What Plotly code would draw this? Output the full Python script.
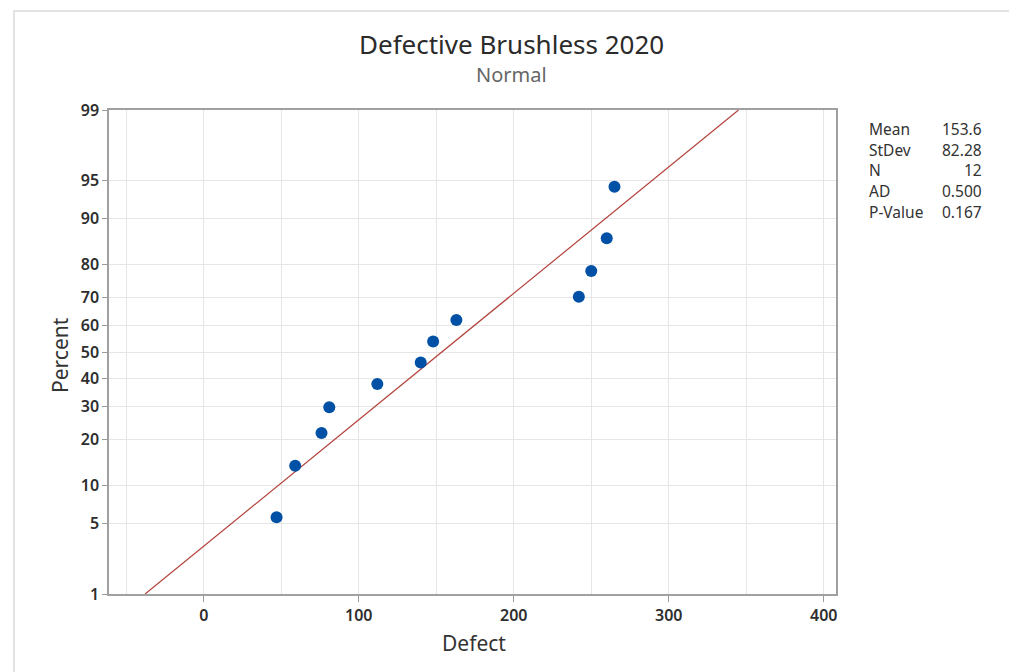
import plotly.graph_objects as go
from statistics import NormalDist

# ---- data ----
DEFECT = [47, 59, 76, 81, 112, 140, 148, 163, 242, 250, 260, 265]
PERCENT = [5.6, 13.7, 21.8, 29.8, 37.9, 46.0, 54.0, 62.1, 70.2, 78.2, 86.3, 94.4]
PCT_TICKS = [1, 5, 10, 20, 30, 40, 50, 60, 70, 80, 90, 95, 99]
X_TICKS = [0, 100, 200, 300, 400]
STAT_LABELS = ["Mean", "StDev", "N", "AD", "P-Value"]
STAT_VALUES = ["153.6", "82.28", "12", "0.500", "0.167"]
MEAN = 153.6
STDEV = 82.28

nd = NormalDist()
def z(p):
    return nd.inv_cdf(p / 100.0)

y_pts = [z(p) for p in PERCENT]
line_pct = [PCT_TICKS[0], PCT_TICKS[-1]]
line_y = [z(p) for p in line_pct]
line_x = [MEAN + STDEV * v for v in line_y]

FONT = "Noto Sans"
W, H = 1017, 672
OFF = 8  # page body margin
L, R, T, B = 109 - OFF, 1017 - (836 - OFF), 110 - OFF, 672 - (594 - OFF)
pw, ph = W - L - R, H - T - B

def px_x(p):
    return (p - OFF - L) / pw
def px_y(p):
    return (H - B - (p - OFF)) / ph

fig = go.Figure()
fig.add_trace(go.Scatter(x=line_x, y=line_y, mode="lines",
                         line=dict(color="#B3403A", width=1.2),
                         hoverinfo="skip", showlegend=False))
fig.add_trace(go.Scatter(x=DEFECT, y=y_pts, mode="markers",
                         marker=dict(color="#0051A5", size=12),
                         showlegend=False))

tickfont = dict(size=16, color="#2e2e2e", family=FONT, weight=600)
fig.update_layout(
    width=W, height=H,
    margin=dict(l=L, r=R, t=T, b=B),
    paper_bgcolor="white", plot_bgcolor="white",
    font=dict(family=FONT, color="#333333"),
    xaxis=dict(range=[-61.1, 407.9], tickvals=X_TICKS,
               ticks="outside", ticklen=6, tickcolor="#9a9a9a",
               showgrid=True, gridcolor="#e6e6e6", gridwidth=1,
               minor=dict(dtick=50, tick0=0, showgrid=True, gridcolor="#e6e6e6", ticks=""),
               showline=True, linecolor="#a0a0a0", linewidth=1.5, mirror=True,
               zeroline=False, tickfont=tickfont),
    yaxis=dict(range=[z(1), z(99)], tickvals=[z(p) for p in PCT_TICKS],
               ticktext=[str(p) for p in PCT_TICKS],
               ticks="outside", ticklen=5, tickcolor="#9a9a9a",
               showgrid=True, gridcolor="#e6e6e6", gridwidth=1,
               showline=True, linecolor="#a0a0a0", linewidth=1.5, mirror=True,
               zeroline=False, tickfont=tickfont),
)

ann = []
ann.append(dict(text="Defective Brushless 2020", x=px_x(511), y=px_y(44), xref="paper", yref="paper",
                showarrow=False, xanchor="center", yanchor="middle",
                font=dict(size=26, color="#2b2b2b", family=FONT)))
ann.append(dict(text="Normal", x=px_x(511), y=px_y(75), xref="paper", yref="paper",
                showarrow=False, xanchor="center", yanchor="middle",
                font=dict(size=20, color="#666666", family=FONT)))
ann.append(dict(text="Defect", x=px_x(474), y=px_y(643), xref="paper", yref="paper",
                showarrow=False, xanchor="center", yanchor="middle",
                font=dict(size=21, color="#333333", family=FONT)))
ann.append(dict(text="Percent", x=px_x(60), y=px_y(355), xref="paper", yref="paper",
                showarrow=False, xanchor="center", yanchor="middle", textangle=-90,
                font=dict(size=21, color="#333333", family=FONT)))
for i, (lab, val) in enumerate(zip(STAT_LABELS, STAT_VALUES)):
    yy = px_y(129 + i * 20.7)
    ann.append(dict(text=lab, x=px_x(867), y=yy, xref="paper", yref="paper",
                    showarrow=False, xanchor="left", yanchor="middle",
                    font=dict(size=15.5, color="#333333", family=FONT)))
    ann.append(dict(text=val, x=px_x(984), y=yy, xref="paper", yref="paper",
                    showarrow=False, xanchor="right", yanchor="middle",
                    font=dict(size=15.5, color="#333333", family=FONT)))
fig.update_layout(annotations=ann)

fig.add_shape(type="rect", xref="paper", yref="paper",
              x0=px_x(14), x1=px_x(1015), y0=px_y(690), y1=px_y(11),
              line=dict(color="#e3e3e3", width=2), fillcolor="rgba(0,0,0,0)", layer="below")

fig.write_html("out.html")
